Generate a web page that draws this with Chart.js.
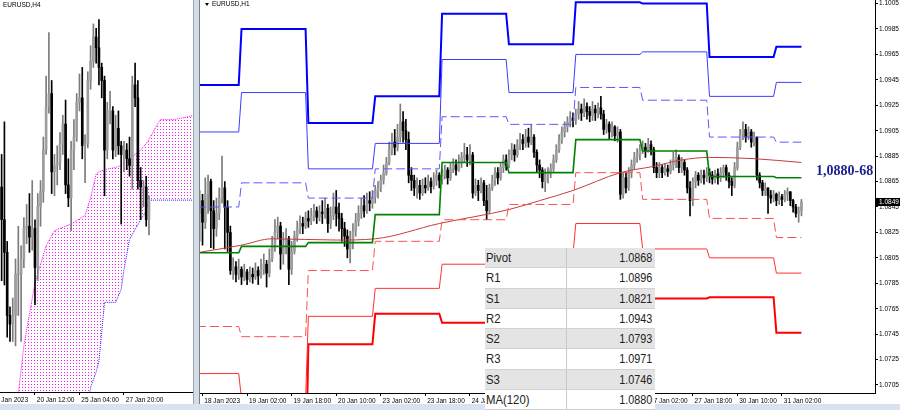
<!DOCTYPE html>
<html>
<head>
<meta charset="utf-8">
<title>EURUSD H4 / H1</title>
<script src="https://cdn.jsdelivr.net/npm/chart.js@4.4.1/dist/chart.umd.min.js"></script>
<style>
  body { margin:0; width:900px; height:410px; overflow:hidden; background:#fff; position:relative; font-family:"Liberation Sans", Arial, sans-serif; }
  .abs { position:absolute; }
  #h4wrap { left:0; top:0; width:193px; height:404px; overflow:hidden; }
  #h4 { position:absolute; left:-20px; top:0; }
  #h1 { position:absolute; left:200px; top:0; }
  #sep { left:193px; top:0; width:7px; height:410px; background:#d3dde9; border-left:1px solid #9aa3ae; border-right:1px solid #7d7d7d; box-sizing:border-box; }
  #foot { left:0; top:404px; width:900px; height:6px; background:#d8e3ef; }
  .ttl { font-size:6.5px; line-height:8px; color:#000; white-space:nowrap; }
  #tri { left:205px; top:3px; width:0; height:0; border-left:2.5px solid transparent; border-right:2.5px solid transparent; border-top:3px solid #000; }
  #tag { left:816px; top:163px; font:bold 14px "Liberation Serif", "Times New Roman", serif; color:#1b1f8c; white-space:nowrap; }
  #tbl { left:485px; top:248px; width:170px; z-index:3; }
  .row { position:relative; height:20.3px; box-sizing:border-box; border-bottom:1px solid #d2d2d2; font-size:13.5px; line-height:20px; color:#222; }
  .row.g { background:#e4e4e4; }
  .row.w { background:#fff; }
  .row .n { position:absolute; left:1px; top:0; transform:scaleX(0.84); transform-origin:left center; }
  .row .v { position:absolute; right:3px; top:0; transform:scaleX(0.8); transform-origin:right center; }
  .row .d { position:absolute; left:81px; top:0; width:1px; height:100%; background:#c8c8c8; }
</style>
</head>
<body>
<div id="h4wrap" class="abs"><canvas id="h4" width="213" height="404"></canvas></div>
<div id="sep" class="abs"></div>
<canvas id="h1" width="700" height="404"></canvas>
<div id="foot" class="abs"></div>
<div class="abs ttl" style="left:3px;top:1px">EURUSD,H4</div>
<div id="tri" class="abs"></div>
<div class="abs ttl" style="left:212px;top:0px">EURUSD,H1</div>
<div id="tag" class="abs">1,0880-68</div>
<div id="tbl" class="abs"></div>
<script>
Chart.defaults.font.family = '"Liberation Sans", Arial, sans-serif';

// prices are kept in pips above 1.0700
const BASE = 1.07;

// ---------- H1 panel: bar number = hours since 18 Jan 00:00 (weekend removed) ----------
const h1FirstBar = 9;
const h1FirstOpen = 140;
const h1Close = [
  150,133,155,165,142,128,140,152,160,145,125,95,98,92,96,
  90,94,88,92,90,95,91,96,100,93,104,115,
  125,130,108,115,120,96,110,
  122,128,132,130,136,134,138,142,137,141,
  140,144,132,138,145,140,136,128,
  122,112,118,126,134,140,
  146,142,150,148,153,158,
  160,166,172,180,
  190,196,192,200,212,205,198,
  170,166,160,162,156,162,
  160,165,161,166,170,166,
  170,174,168,175,178,174,180,184,186,182,186,
  156,162,158,164,150,142,160,
  166,172,168,176,182,178,186,190,186,194,198,195,200,196,200,
  188,178,174,165,170,172,175,182,190,198,204,208,212,
  215,213,218,222,219,224,220,217,222,219,223,218,
  206,210,204,208,201,204,155,168,160,172,178,184,186,190,
  192,189,194,190,176,172,176,172,175,173,178,182,184,176,180,174,160,150,165,170,166,170,168,172,
  170,167,171,168,172,176,170,165,162,176,
  192,202,206,200,204,196,200,170,
  164,158,160,154,152,155,150,153,151,155,157,150,145,140,142,149
];
const h1High = [
  158,155,168,170,167,150,152,160,185,165,150,130,105,102,104,
  98,100,96,98,97,101,98,104,108,103,112,122,
  135,137,133,125,128,122,118,
  126,134,138,137,141,142,144,147,145,146,
  150,152,147,145,156,158,148,140,
  133,127,126,132,140,146,
  152,154,156,157,158,162,
  165,170,178,184,
  196,203,206,210,226,220,214,
  204,176,170,168,166,167,
  168,170,168,172,174,172,
  175,178,176,180,183,182,186,188,195,192,194,
  188,167,166,168,166,162,163,
  170,176,176,180,186,186,190,195,194,198,203,202,206,207,210,
  202,190,182,176,175,176,179,186,194,202,208,212,216,
  220,219,222,228,226,230,227,224,228,225,227,232,
  221,214,212,212,209,208,206,172,172,176,182,188,191,194,
  197,195,199,197,192,180,180,178,179,178,182,188,190,186,184,182,176,165,168,173,172,174,174,176,
  175,173,174,175,176,178,178,172,168,180,
  196,206,212,210,208,206,204,200,
  172,166,164,160,158,158,156,157,155,158,160,157,151,147,145,151
];
const h1Low = [
  118,115,128,140,113,112,122,135,148,112,110,92,88,86,88,
  84,87,84,86,85,88,84,89,92,82,90,102,
  110,120,96,100,108,84,92,
  108,118,124,124,128,129,131,134,132,134,
  132,136,125,128,135,130,126,118,
  114,105,101,112,122,130,
  136,137,140,142,144,148,
  152,157,163,170,
  178,186,186,189,196,196,190,
  164,158,154,152,151,154,
  156,158,156,159,162,160,
  163,167,163,166,172,170,173,176,180,177,178,
  152,154,150,156,146,135,140,
  158,162,163,166,172,174,176,182,181,184,190,190,192,192,194,
  184,172,168,160,157,164,168,173,180,188,195,200,204,
  208,208,210,214,213,216,214,212,213,213,215,214,
  202,203,198,200,197,196,151,152,156,158,168,175,180,182,
  187,184,188,186,172,168,168,168,170,169,171,174,176,172,172,170,156,138,146,160,162,164,163,165,
  164,163,164,163,165,168,166,160,154,160,
  174,190,198,196,198,192,193,166,
  160,154,154,140,148,149,146,147,146,149,150,146,141,137,133,138
];

// daily pivot levels (18, 19, 20, 23, 24, 25, 26, 27, 30, 31 Jan)
const dayStart = [8, 24, 48, 72, 96, 120, 144, 168, 192, 216];
const lastBar = 225;
const levR3 = [1.0941, 1.0985, 1.0911, 1.0932, 1.0997, 1.0973, 1.1006, 1.1005, 1.0963, 1.0971];
const levR2 = [1.0904, 1.0935, 1.0875, 1.0895, 1.0961, 1.0935, 1.0965, 1.0967, 1.0932, 1.0943];
const levR1 = [1.0845, 1.0864, 1.0852, 1.0875, 1.0916, 1.0910, 1.0939, 1.0929, 1.0900, 1.0896];
const levP  = [1.0809, 1.0814, 1.0817, 1.0839, 1.0880, 1.0872, 1.0898, 1.0889, 1.0869, 1.0868];
const levS1 = [1.0751, 1.0743, 1.0795, 1.0818, 1.0835, 1.0847, 1.0872, 1.0851, 1.0836, 1.0821];
const levS2 = [1.0714, 1.0694, 1.0759, 1.0781, 1.0800, 1.0808, 1.0832, 1.0812, 1.0805, 1.0793];
const levS3 = [1.0656, 1.0622, 1.0737, 1.0761, 1.0754, 1.0783, 1.0804, 1.0773, 1.0774, 1.0746];

const maBars   = [8, 24, 35, 58, 72, 95, 120, 131, 143, 160, 172, 182, 192, 208, 225];
const maValues = [1.0809, 1.0815, 1.0820, 1.0819, 1.0820, 1.0832, 1.0843, 1.0850, 1.0858, 1.0872, 1.0877, 1.0882, 1.0884, 1.0883, 1.0880];

const h1TickBars = [10, 26, 42, 58, 74, 90, 106, 122, 138, 154, 170, 186, 202, 218];
const h1TickText = ['18 Jan 2023', '19 Jan 02:00', '19 Jan 18:00', '20 Jan 10:00', '23 Jan 02:00', '23 Jan 18:00',
  '24 Jan 10:00', '25 Jan 02:00', '25 Jan 18:00', '26 Jan 10:00', '27 Jan 02:00', '27 Jan 18:00', '30 Jan 10:00', '31 Jan 02:00'];
const priceTicks = [1.0705, 1.0725, 1.0745, 1.0765, 1.0785, 1.0805, 1.0825, 1.0845, 1.0865, 1.0885, 1.0905, 1.0925, 1.0945, 1.0965, 1.0985, 1.1005];

// ---------- H4 panel: bar number counted from 20 Jan 12:00 ----------
const h4FirstBar = -13;
const h4Open  = [140,155,140,125,96,92,96,115,115,122,136,137,132,136,118,146,153,172,192,198,162,165,166,175,184,156,150,172,178,194,196,174,175,204,213,224,219,210,204,172,190,190,172,182,174,170,172,168,165,202,196,158,155,155,140];
const h4High  = [168,170,185,130,100,104,122,137,128,141,147,152,158,140,152,158,178,206,226,204,170,174,180,188,195,168,176,186,198,207,210,179,208,220,230,228,232,212,206,194,199,192,188,190,176,176,175,178,206,212,204,164,158,160,151];
const h4Low   = [115,112,110,86,84,84,82,96,84,118,129,125,126,101,112,137,148,170,189,152,151,156,163,170,152,146,135,163,176,190,168,157,173,200,210,212,202,196,151,168,184,168,169,170,138,162,163,160,154,192,154,140,146,137,133];
const h4Close = [155,140,125,96,92,96,115,115,122,136,137,132,136,118,146,153,172,192,198,162,165,166,175,184,156,150,172,178,194,196,174,175,204,213,224,219,210,204,172,190,190,172,182,174,170,172,168,165,202,196,158,155,155,140,149];

const cloudBars = [-13, -6, -4, 0, 4, 7, 13, 18, 20, 22, 23, 25, 29, 31, 32, 34, 38, 40, 41, 45, 50, 54, 57];
const spanA = [1.0739, 1.0760, 1.0782, 1.0811, 1.0828, 1.0835, 1.0838, 1.0842, 1.0850, 1.0861, 1.0862, 1.0863, 1.0864, 1.0865, 1.0866, 1.0868, 1.0872, 1.0875, 1.0877, 1.0886, 1.0886, 1.0887, 1.0888];
const spanB = [1.0711, 1.0720, 1.0722, 1.0727, 1.0730, 1.0732, 1.0737, 1.0743, 1.0763, 1.0770, 1.0775, 1.0802, 1.0802, 1.0808, 1.0817, 1.0831, 1.0840, 1.0844, 1.0849, 1.0849, 1.0849, 1.0849, 1.0849];
const h4TickBars = [-16, 0, 16, 32];
const h4TickText = ['17 Jan 2023', '20 Jan 12:00', '25 Jan 04:00', '27 Jan 20:00'];

const tableNames = ['Pivot', 'R1', 'S1', 'R2', 'S2', 'R3', 'S3', 'MA(120)'];

// -------------------------------------------------------------
const price = p => +(BASE + p / 10000).toFixed(5);

function candleSets(first, o, h, l, c) {
  const up = c.map((v, i) => v >= o[i]);
  return [
    { type: 'bar', order: 2, grouped: false, barThickness: 2, minBarLength: 1, borderWidth: 0,
      data: c.map((v, i) => ({ x: first + i, y: [price(o[i]), price(v)] })),
      backgroundColor: up.map(u => u ? '#9d9d9d' : '#000') },
    { type: 'bar', order: 3, grouped: false, barThickness: 1, borderWidth: 0,
      data: c.map((v, i) => ({ x: first + i, y: [price(l[i]), price(h[i])] })),
      backgroundColor: up.map(u => u ? '#7c7c7c' : '#000') }
  ];
}

function levelSet(vals, color, width, dash) {
  const pts = [];
  vals.forEach((v, d) => {
    const end = d + 1 < dayStart.length ? dayStart[d + 1] - 1 : lastBar;
    pts.push({ x: dayStart[d], y: v }, { x: end, y: v });
  });
  return { type: 'line', order: 0, data: pts, borderColor: color, borderWidth: width,
           borderDash: dash || [], pointRadius: 0, fill: false, tension: 0 };
}

function axisX(min, max, ticks, texts, height) {
  return {
    type: 'linear', min: min, max: max, offset: false,
    afterBuildTicks: s => { s.ticks = ticks.map(v => ({ value: v })); },
    afterFit: s => { s.height = height; s.paddingLeft = 0; s.paddingRight = 0; },
    ticks: { autoSkip: false, maxRotation: 0, minRotation: 0, align: 'start', padding: 1,
             color: '#000', font: { size: 6.5 }, callback: (v, i) => ' ' + texts[i] },
    grid: { drawOnChartArea: false, offset: false, tickLength: 3, color: '#000' },
    border: { color: '#000' }
  };
}

// H1 opens at the previous close
const h1Open = h1Close.map((v, i) => i ? h1Close[i - 1] : h1FirstOpen);
const lastClose = price(h1Close[h1Close.length - 1]);

const priceTag = {
  id: 'priceTag',
  afterDraw(chart) {
    const ctx = chart.ctx, y = chart.scales.y.getPixelForValue(lastClose), x0 = chart.chartArea.right;
    ctx.save();
    ctx.fillStyle = '#000';
    ctx.fillRect(x0 + 1, Math.round(y) - 4, 25, 8);
    ctx.fillStyle = '#fff';
    ctx.font = '6.5px "Liberation Sans"';
    ctx.textBaseline = 'middle';
    ctx.fillText(lastClose.toFixed(4), x0 + 4, y);
    ctx.restore();
  }
};

new Chart(document.getElementById('h1'), {
  type: 'bar',
  data: {
    datasets: [
      levelSet(levR3, '#0000ff', 2),
      levelSet(levR2, '#3c3cff', 1),
      levelSet(levR1, '#5a5aff', 1, [9, 4]),
      levelSet(levP, '#008000', 1.6),
      levelSet(levS1, '#ff5050', 1, [9, 4]),
      levelSet(levS2, '#ff3030', 1),
      levelSet(levS3, '#ff0000', 2),
      { type: 'line', order: 1, data: maBars.map((b, i) => ({ x: b, y: maValues[i] })),
        borderColor: '#c83c3c', borderWidth: 1, pointRadius: 0, fill: false, cubicInterpolationMode: 'monotone' },
      ...candleSets(h1FirstBar, h1Open, h1High, h1Low, h1Close)
    ]
  },
  options: {
    responsive: false, animation: false, events: [],
    layout: { padding: 0 },
    plugins: { legend: { display: false }, tooltip: { enabled: false } },
    scales: {
      x: axisX(9.1, 251.4, h1TickBars, h1TickText, 11),
      y: {
        type: 'linear', position: 'right', min: 1.06987, max: 1.10078,
        afterBuildTicks: s => { s.ticks = priceTicks.map(v => ({ value: v })); },
        afterFit: s => { s.width = 25; s.paddingTop = 0; s.paddingBottom = 0; },
        ticks: { padding: 1, color: '#000', font: { size: 6.5 }, callback: v => v.toFixed(4) },
        grid: { drawOnChartArea: false, tickLength: 3, color: '#000' },
        border: { color: '#000' }
      }
    }
  },
  plugins: [priceTag]
});

// Ichimoku cloud hatch: sparse vertical dotted lines
function hatch(color) {
  const c = document.createElement('canvas');
  c.width = 3; c.height = 3;
  const g = c.getContext('2d');
  g.fillStyle = color;
  g.fillRect(0, 0, 1, 1);
  return g.createPattern(c, 'repeat');
}

new Chart(document.getElementById('h4'), {
  type: 'bar',
  data: {
    datasets: [
      { type: 'line', order: 5, data: cloudBars.map((b, i) => ({ x: b, y: spanA[i] })),
        borderColor: '#ff00ff', borderWidth: 1, borderDash: [1, 1], pointRadius: 0, tension: 0,
        fill: '+1', backgroundColor: hatch('#f020f0') },
      { type: 'line', order: 5, data: cloudBars.map((b, i) => ({ x: b, y: spanB[i] })),
        borderColor: '#2020ff', borderWidth: 1, borderDash: [1, 1], pointRadius: 0, tension: 0, fill: false },
      ...candleSets(h4FirstBar, h4Open, h4High, h4Low, h4Close)
    ]
  },
  options: {
    responsive: false, animation: false, events: [],
    layout: { padding: 0 },
    plugins: { legend: { display: false }, tooltip: { enabled: false } },
    scales: {
      x: axisX(-19.78, 56.83, h4TickBars, h4TickText, 12),
      y: { type: 'linear', display: false, min: 1.07608, max: 1.09410 }
    }
  }
});

// level table (last day values)
const tableVals = [levP, levR1, levS1, levR2, levS2, levR3, levS3].map(a => a[a.length - 1]);
tableVals.push(maValues[maValues.length - 1]);
document.getElementById('tbl').innerHTML = tableNames.map((n, i) =>
  '<div class="row ' + (i % 2 ? 'w' : 'g') + '"><span class="n">' + n + '</span><span class="d"></span>' +
  '<span class="v">' + tableVals[i].toFixed(4) + '</span></div>').join('');
</script>
</body>
</html>
